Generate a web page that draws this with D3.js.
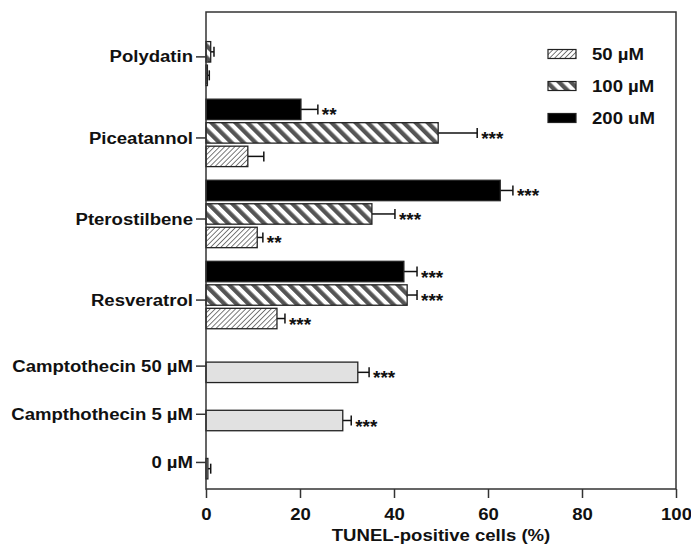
<!DOCTYPE html>
<html>
<head>
<meta charset="utf-8">
<script src="https://cdn.jsdelivr.net/npm/d3@7"></script>
<style>
  body { margin: 0; background: #fff; }
  text { font-family: "Liberation Sans", Arial, sans-serif; font-weight: bold; fill: #111; }
</style>
</head>
<body>
<div class="chart"></div>
<script>
// compounds, each with 3 doses (bars top to bottom: 200, 100, 50)
var compounds = ["Polydatin", "Piceatannol", "Pterostilbene", "Resveratrol"];
var mean200 = [0, 20.2, 62.6, 42.1];
var sem200 = [0, 3.6, 2.7, 2.8];
var sig200 = ["", "**", "***", "***"];
var mean100 = [1.0, 49.4, 35.3, 42.8];
var sem100 = [0.7, 8.3, 4.9, 2.1];
var sig100 = ["", "***", "***", "***"];
var mean50 = [0.3, 8.9, 10.9, 15.1];
var sem50 = [0.4, 3.4, 1.2, 1.7];
var sig50 = ["", "", "**", "***"];

// controls, one bar each
var controls = ["Camptothecin 50 µM", "Campthothecin 5 µM", "0 µM"];
var controlMean = [32.3, 29.1, 0.4];
var controlSem = [2.4, 1.8, 0.6];
var controlSig = ["***", "***", ""];

var legendLabels = ["50 µM", "100 µM", "200 uM"];
var xTicks = [0, 20, 40, 60, 80, 100];
var xTitle = "TUNEL-positive cells (%)";

var margin = { top: 12, right: 15, bottom: 59, left: 206 },
    width = 691 - margin.left - margin.right,
    height = 548 - margin.top - margin.bottom;

// the original lettering is a little wide
var stretch = "scale(1.16,1)";

var svg = d3.select(".chart")
    .append("svg")
    .attr("width", width + margin.left + margin.right)
    .attr("height", height + margin.top + margin.bottom)
    .append("g")
    .attr("transform", "translate(" + margin.left + "," + margin.top + ")");

var defs = svg.append("defs");

var p50 = defs.append("pattern")
    .attr("id", "hatch50")
    .attr("patternUnits", "userSpaceOnUse")
    .attr("width", 3.6).attr("height", 3.6)
    .attr("patternTransform", "rotate(45)");
p50.append("rect").attr("width", 3.6).attr("height", 3.6).attr("fill", "#fff");
p50.append("line").attr("x1", 0).attr("y1", 0).attr("x2", 0).attr("y2", 3.6)
    .attr("stroke", "#111").attr("stroke-width", 1.1);

var p100 = defs.append("pattern")
    .attr("id", "hatch100")
    .attr("patternUnits", "userSpaceOnUse")
    .attr("width", 8.5).attr("height", 8.5)
    .attr("patternTransform", "rotate(-45)");
p100.append("rect").attr("width", 8.5).attr("height", 8.5).attr("fill", "#fff");
p100.append("rect").attr("width", 4.3).attr("height", 8.5).attr("fill", "#555");

var fills = { d200: "#000", d100: "url(#hatch100)", d50: "url(#hatch50)", ctrl: "#e1e1e1" };

var x = d3.scaleLinear().domain([0, 100]).range([0, width]);
// vertical position in bar rows
var y = d3.scaleLinear().domain([0, 20.3]).range([0, height]);
var barH = y(0.87) - y(0);

// build rows from the arrays
var bars = [], ticks = [];
compounds.forEach(function(name, i) {
    var start = 0.26 + i * 3.45;
    ticks.push({ name: name, row: start + 1.65 });
    [[mean200, sem200, sig200, "d200"], [mean100, sem100, sig100, "d100"], [mean50, sem50, sig50, "d50"]]
        .forEach(function(s, k) {
            bars.push({ row: start + k, mean: s[0][i], sem: s[1][i], sig: s[2][i], fill: fills[s[3]] });
        });
});
controls.forEach(function(name, i) {
    var start = 14.9 + i * 2.05;
    ticks.push({ name: name, row: start + 0.17 });
    bars.push({ row: start, mean: controlMean[i], sem: controlSem[i], sig: controlSig[i], fill: fills.ctrl });
});

var drawn = bars.filter(function(d) { return d.mean > 0; });

// error bars (behind the bars)
var err = svg.append("g").attr("stroke", "#111").attr("stroke-width", 1.5);
err.selectAll("line.eb").data(drawn).enter().append("line")
    .attr("x1", function(d) { return x(d.mean); })
    .attr("x2", function(d) { return x(d.mean + d.sem); })
    .attr("y1", function(d) { return y(d.row) + barH / 2; })
    .attr("y2", function(d) { return y(d.row) + barH / 2; });
err.selectAll("line.cap").data(drawn).enter().append("line")
    .attr("x1", function(d) { return x(d.mean + d.sem); })
    .attr("x2", function(d) { return x(d.mean + d.sem); })
    .attr("y1", function(d) { return y(d.row) + barH / 2 - 5; })
    .attr("y2", function(d) { return y(d.row) + barH / 2 + 5; });

svg.append("g").selectAll("rect").data(drawn).enter().append("rect")
    .attr("x", x(0))
    .attr("y", function(d) { return y(d.row); })
    .attr("width", function(d) { return x(d.mean) - x(0); })
    .attr("height", barH)
    .attr("fill", function(d) { return d.fill; })
    .attr("stroke", "#222")
    .attr("stroke-width", 1.3);

svg.append("g").selectAll("text").data(drawn.filter(function(d) { return d.sig; })).enter().append("text")
    .attr("x", function(d) { return x(d.mean + d.sem) + 4; })
    .attr("y", function(d) { return y(d.row) + barH / 2 + 12; })
    .style("font-size", "19px")
    .text(function(d) { return d.sig; });

// frame
svg.append("rect")
    .attr("width", width).attr("height", height)
    .attr("fill", "none").attr("stroke", "#333").attr("stroke-width", 1.5);

// x axis
var xAxis = svg.append("g")
    .attr("transform", "translate(0," + height + ")")
    .call(d3.axisBottom(x).tickValues(xTicks).tickSize(9).tickPadding(11));
xAxis.select(".domain").remove();
xAxis.selectAll("line").attr("stroke", "#333").attr("stroke-width", 1.5);
xAxis.selectAll("text")
    .attr("transform", stretch)
    .style("font-size", "16px")
    .style("font-family", "Liberation Sans, Arial, sans-serif")
    .style("font-weight", "bold");

svg.append("text")
    .attr("transform", "translate(" + (width / 2) + "," + (height + 52) + ") " + stretch)
    .attr("text-anchor", "middle")
    .style("font-size", "16px")
    .text(xTitle);

// y category ticks
var yt = svg.append("g").selectAll("g").data(ticks).enter().append("g")
    .attr("transform", function(d) { return "translate(0," + y(d.row) + ")"; });
yt.append("line").attr("x1", -10).attr("x2", 0).attr("stroke", "#333").attr("stroke-width", 1.5);
yt.append("text")
    .attr("transform", "translate(-13,0) " + stretch)
    .attr("dy", "0.35em")
    .attr("text-anchor", "end")
    .style("font-size", "16px")
    .text(function(d) { return d.name; });

// legend
var legendFills = [fills.d50, fills.d100, fills.d200];
var legend = svg.append("g").attr("transform", "translate(342,42)");
var li = legend.selectAll("g").data(legendLabels).enter().append("g")
    .attr("transform", function(d, i) { return "translate(0," + (i * 32) + ")"; });
li.append("rect")
    .attr("y", -4.5).attr("width", 28).attr("height", 9)
    .attr("fill", function(d, i) { return legendFills[i]; })
    .attr("stroke", "#222").attr("stroke-width", 1.2);
li.append("text")
    .attr("transform", "translate(44,0) " + stretch)
    .attr("dy", "0.35em")
    .style("font-size", "16px")
    .text(function(d) { return d; });
</script>
</body>
</html>
